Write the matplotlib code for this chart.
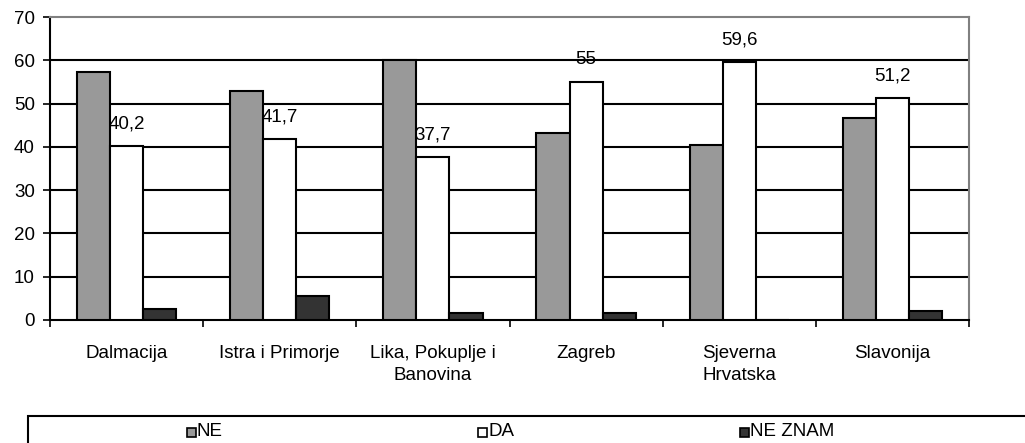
import matplotlib.pyplot as plt
from matplotlib.patches import Rectangle
import numpy as np

plt.rcParams["font.family"] = ["Liberation Sans", "DejaVu Sans"]

regije = ["Dalmacija", "Istra i Primorje", "Lika, Pokuplje i\nBanovina",
          "Zagreb", "Sjeverna\nHrvatska", "Slavonija"]
ne = [57.2, 52.9, 60.1, 43.3, 40.4, 46.7]
da = [40.2, 41.7, 37.7, 55.0, 59.6, 51.2]
ne_znam = [2.6, 5.6, 1.6, 1.6, 0.0, 2.1]
da_oznake = ["40,2", "41,7", "37,7", "55", "59,6", "51,2"]

serije = [("NE", ne, "#999999"), ("DA", da, "#ffffff"), ("NE ZNAM", ne_znam, "#333333")]
fs = 13.5

fig = plt.figure(figsize=(10.25, 4.43), dpi=100)
ax = fig.add_axes([50 / 1025, 1 - 320 / 443, 919 / 1025, 303 / 443])

x = np.arange(len(regije))
w = 0.216
for i, (ime, vals, boja) in enumerate(serije):
    pos = x + (i - 1) * w
    ax.bar(pos, vals, width=w, color=boja, edgecolor="black", linewidth=1.5, zorder=3)
    if ime == "DA":
        for px, v, t in zip(pos, vals, da_oznake):
            ax.annotate(t, (px, v), xytext=(0, 16), textcoords="offset points",
                        ha="center", va="center", fontsize=fs, zorder=4)

ax.set_xlim(-0.5, len(regije) - 0.5)
ax.set_ylim(0, 70)
ax.set_yticks(range(0, 71, 10))
ax.tick_params(axis="y", labelsize=fs, length=5, width=1.2, direction="out", pad=6)
for g in range(10, 61, 10):
    ax.axhline(g, color="black", linewidth=1.5, zorder=1)

ax.set_xticks(np.arange(-0.5, len(regije), 1))
ax.set_xticklabels([])
ax.tick_params(axis="x", which="major", length=5, width=1.2, direction="out")
ax.set_xticks(x, minor=True)
ax.set_xticklabels(regije, minor=True, fontsize=fs, linespacing=1.35)
ax.tick_params(axis="x", which="minor", length=0, pad=18)

for s in ["left", "bottom"]:
    ax.spines[s].set_color("black")
    ax.spines[s].set_linewidth(1.5)
for s in ["top", "right"]:
    ax.spines[s].set_color("#808080")
    ax.spines[s].set_linewidth(1.5)

# legenda
fig.patches.append(Rectangle((28 / 1025, -0.1), 1.2, (443 - 416) / 443 + 0.1,
                             transform=fig.transFigure, fill=False,
                             edgecolor="black", linewidth=1.5))
leg_x = [187, 478, 740]
for (ime, vals, boja), lx in zip(serije, leg_x):
    fig.patches.append(Rectangle((lx / 1025, 1 - 437 / 443), 9 / 1025, 9 / 443,
                                 transform=fig.transFigure, facecolor=boja,
                                 edgecolor="black", linewidth=1.2))
    fig.text((lx + 10) / 1025, 1 - 432 / 443, ime, fontsize=fs, va="center", ha="left")

fig.savefig("out.png", dpi=100)
